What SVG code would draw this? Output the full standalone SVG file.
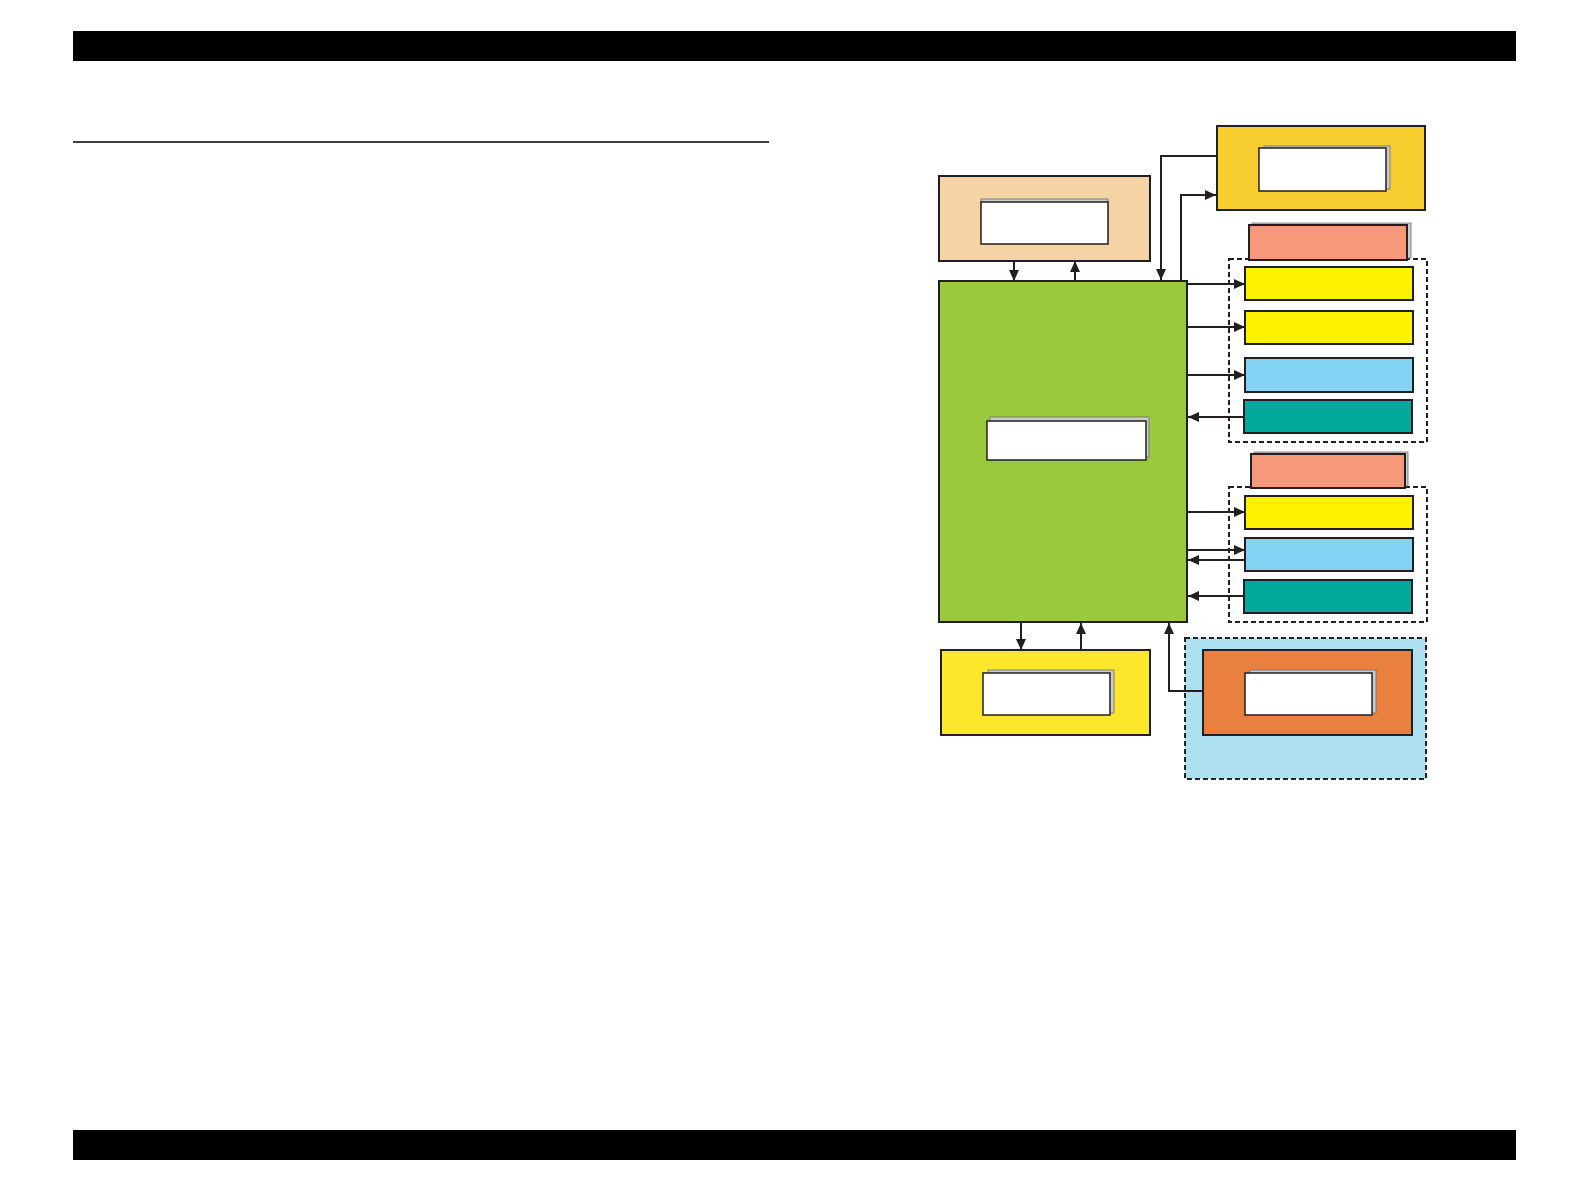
<svg xmlns="http://www.w3.org/2000/svg" width="1586" height="1190" viewBox="0 0 1586 1190">
<style>
.bx{stroke:#231f20;stroke-width:2}
.sh{fill:#cbcbcb;stroke:#6d6d6d;stroke-width:0.8}
.wh{fill:#ffffff;stroke:#231f20;stroke-width:1.5}
.dash{fill:none;stroke:#231f20;stroke-width:2;stroke-dasharray:5,3}
.cn{fill:none;stroke:#231f20;stroke-width:2}
</style>
<defs>
<marker id="ah" markerUnits="userSpaceOnUse" markerWidth="11" markerHeight="10" refX="11" refY="5" orient="auto">
<path d="M0,0 L11,5 L0,10 z" fill="#231f20"/>
</marker>
</defs>
<rect x="0" y="0" width="1586" height="1190" fill="#ffffff"/>
<g id="header">
<rect x="73" y="31" width="1443" height="30" fill="#000000"/>
<line x1="73" y1="142" x2="769" y2="142" stroke="#000000" stroke-width="1.5"/>
</g>
<g id="footer">
<rect x="73" y="1130" width="1443" height="30" fill="#000000"/>
</g>
<g id="group-top-dashed">
<rect class="dash" x="1229" y="259" width="198" height="183"/>
</g>
<g id="group-bottom-dashed">
<rect class="dash" x="1229" y="487" width="198" height="135"/>
</g>
<g id="region-lightblue">
<rect x="1185" y="638" width="241" height="141" fill="#ace0f0" stroke="#231f20" stroke-width="2" stroke-dasharray="5,3"/>
</g>
<g id="node-peach">
<rect class="bx" x="939" y="176" width="211" height="85" fill="#f5d3a5"/>
<rect class="sh" x="981" y="199" width="127" height="42"/>
<rect class="wh" x="981" y="202" width="127" height="42"/>
</g>
<g id="node-gold">
<rect class="bx" x="1217" y="126" width="208" height="84" fill="#f7cd2f"/>
<rect class="sh" x="1264" y="146" width="126" height="43"/>
<rect class="wh" x="1259" y="148" width="127" height="43"/>
</g>
<g id="node-main">
<rect class="bx" x="939" y="281" width="248" height="341" fill="#9bc93e"/>
<rect class="sh" x="990" y="417" width="159" height="40"/>
<rect class="wh" x="987" y="421" width="159" height="39"/>
</g>
<g id="node-salmon-1">
<rect class="sh" x="1252" y="223" width="159" height="35"/>
<rect class="bx" x="1249" y="225" width="158" height="35" fill="#f5997a"/>
</g>
<g id="node-yellow-1">
<rect class="bx" x="1245" y="267" width="168" height="33" fill="#fff200"/>
</g>
<g id="node-yellow-2">
<rect class="bx" x="1245" y="311" width="168" height="33" fill="#fff200"/>
</g>
<g id="node-blue-1">
<rect class="bx" x="1245" y="358" width="168" height="34" fill="#83d3f4"/>
</g>
<g id="node-teal-1">
<rect class="bx" x="1244" y="400" width="168" height="33" fill="#00a99b"/>
</g>
<g id="node-salmon-2">
<rect class="sh" x="1254" y="452" width="154" height="34"/>
<rect class="bx" x="1251" y="454" width="154" height="34" fill="#f5997a"/>
</g>
<g id="node-yellow-3">
<rect class="bx" x="1245" y="496" width="168" height="33" fill="#fff200"/>
</g>
<g id="node-blue-2">
<rect class="bx" x="1245" y="538" width="168" height="33" fill="#83d3f4"/>
</g>
<g id="node-teal-2">
<rect class="bx" x="1244" y="580" width="168" height="33" fill="#00a99b"/>
</g>
<g id="node-bottom-yellow">
<rect class="bx" x="941" y="650" width="209" height="85" fill="#fce72c"/>
<rect class="sh" x="988" y="670" width="126" height="43"/>
<rect class="wh" x="983" y="673" width="127" height="42"/>
</g>
<g id="node-orange">
<rect class="bx" x="1203" y="650" width="209" height="85" fill="#e9803f"/>
<rect class="sh" x="1250" y="670" width="126" height="43"/>
<rect class="wh" x="1245" y="673" width="127" height="42"/>
</g>
<g id="connectors">
<path class="cn" d="M1014,261 V281" marker-end="url(#ah)"/>
<path class="cn" d="M1075,281 V261" marker-end="url(#ah)"/>
<path class="cn" d="M1217,156 H1161 V280" marker-end="url(#ah)"/>
<path class="cn" d="M1181,281 V195 H1216" marker-end="url(#ah)"/>
<path class="cn" d="M1187,284 H1245" marker-end="url(#ah)"/>
<path class="cn" d="M1187,327 H1245" marker-end="url(#ah)"/>
<path class="cn" d="M1187,375 H1245" marker-end="url(#ah)"/>
<path class="cn" d="M1244,417 H1188" marker-end="url(#ah)"/>
<path class="cn" d="M1187,512 H1245" marker-end="url(#ah)"/>
<path class="cn" d="M1187,550 H1245" marker-end="url(#ah)"/>
<path class="cn" d="M1245,560 H1188" marker-end="url(#ah)"/>
<path class="cn" d="M1244,596 H1188" marker-end="url(#ah)"/>
<path class="cn" d="M1021,622 V650" marker-end="url(#ah)"/>
<path class="cn" d="M1081,650 V623" marker-end="url(#ah)"/>
<path class="cn" d="M1203,691 H1169 V623" marker-end="url(#ah)"/>
</g>
</svg>
